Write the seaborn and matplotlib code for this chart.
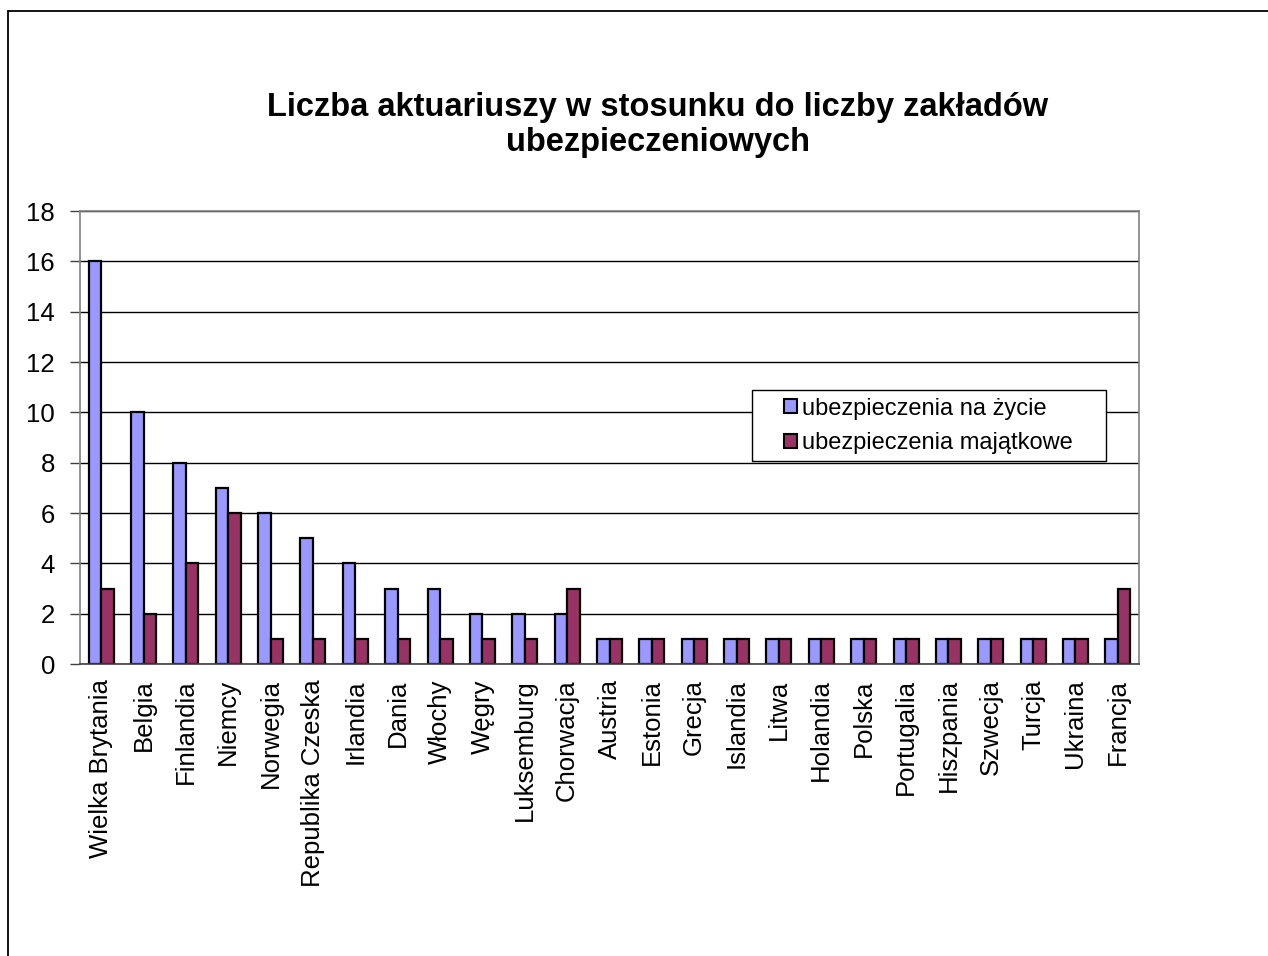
import numpy as np
import pandas as pd
import seaborn as sns
import matplotlib.pyplot as plt
from matplotlib.lines import Line2D
from matplotlib.patches import Patch, Rectangle

countries = ["Wielka Brytania", "Belgia", "Finlandia", "Niemcy", "Norwegia",
             "Republika Czeska", "Irlandia", "Dania", "Włochy", "Węgry",
             "Luksemburg", "Chorwacja", "Austria", "Estonia", "Grecja",
             "Islandia", "Litwa", "Holandia", "Polska", "Portugalia",
             "Hiszpania", "Szwecja", "Turcja", "Ukraina", "Francja"]
zycie = [16, 10, 8, 7, 6, 5, 4, 3, 3, 2, 2, 2, 1, 1, 1, 1, 1, 1, 1, 1, 1, 1, 1, 1, 1]
majatkowe = [3, 2, 4, 6, 1, 1, 1, 1, 1, 1, 1, 3, 1, 1, 1, 1, 1, 1, 1, 1, 1, 1, 1, 1, 3]
series = ["ubezpieczenia na życie", "ubezpieczenia majątkowe"]
colors = ["#9999FF", "#993366"]

df = pd.DataFrame({
    "kraj": countries * 2,
    "wartosc": zycie + majatkowe,
    "typ": [series[0]] * len(countries) + [series[1]] * len(countries),
})

sns.set_style("white")
plt.rcParams["font.family"] = ["Liberation Sans", "DejaVu Sans"]
plt.rcParams["text.color"] = "black"
plt.rcParams["xtick.color"] = "black"
plt.rcParams["ytick.color"] = "black"

W, H = 1268, 956
fig = plt.figure(figsize=(W / 100, H / 100), dpi=100)
x0, x1, y0, y1 = 80, 1139, 211, 664
ax = fig.add_axes([x0 / W, 1 - y1 / H, (x1 - x0) / W, (y1 - y0) / H])

sns.barplot(data=df, x="kraj", y="wartosc", hue="typ", palette=colors,
            width=0.59, edgecolor="black", linewidth=1.6, ax=ax,
            legend=False, saturation=1)

ax.set_ylim(0, 18)
ax.set_xlim(-0.5, len(countries) - 0.5)
ax.set_yticks(range(0, 19, 2))
ax.yaxis.grid(True, color="black", linewidth=1)
ax.set_axisbelow(True)
ax.set_xlabel("")
ax.set_ylabel("")

ax.set_xticks(range(len(countries)))
ax.set_xticklabels(countries, rotation=90, fontsize=18.5)
ax.set_xticks(np.arange(-0.5, len(countries), 1), minor=True)
ax.tick_params(axis="x", which="major", length=0, pad=11)
ax.tick_params(axis="x", which="minor", length=7, width=1, color="#404040", direction="out")
ax.tick_params(axis="y", length=7, width=1, color="#404040", labelsize=18.5, pad=11, left=True)

for side in ["left", "right", "top"]:
    ax.spines[side].set_color("#808080")
    ax.spines[side].set_linewidth(1.2)
ax.spines["bottom"].set_color("#404040")
ax.spines["bottom"].set_linewidth(1.2)

# legend box drawn by hand, entries placed inside it
lx0, lx1, ly0, ly1 = 752, 1106, 390, 461
ax.add_patch(Rectangle(((lx0 - x0) / (x1 - x0), 1 - (ly1 - y0) / (y1 - y0)),
                       (lx1 - lx0) / (x1 - x0), (ly1 - ly0) / (y1 - y0),
                       transform=ax.transAxes, facecolor="white", edgecolor="black",
                       linewidth=1, zorder=5, clip_on=False))
handles = [Patch(facecolor=c, edgecolor="black", linewidth=1.5) for c in colors]
leg = ax.legend(handles, series, loc="center left",
                bbox_to_anchor=((784 - x0) / (x1 - x0), 1 - (426 - y0) / (y1 - y0)),
                fontsize=17, frameon=False, handlelength=0.55,
                handleheight=0.55, handletextpad=0.2, labelspacing=0.55,
                borderpad=0, borderaxespad=0)
leg.set_zorder(6)

fig.text(658 / W, 1 - 125 / H,
         "Liczba aktuariuszy w stosunku do liczby zakładów\nubezpieczeniowych",
         ha="center", va="center", fontsize=23.5, fontweight="bold", linespacing=1.2)

fig.add_artist(Line2D([8 / W, 8 / W], [0, 1 - 11 / H], color="black", linewidth=1.3))
fig.add_artist(Line2D([8 / W, 1], [1 - 11 / H, 1 - 11 / H], color="black", linewidth=1.3))

fig.savefig("out.png", dpi=100)
